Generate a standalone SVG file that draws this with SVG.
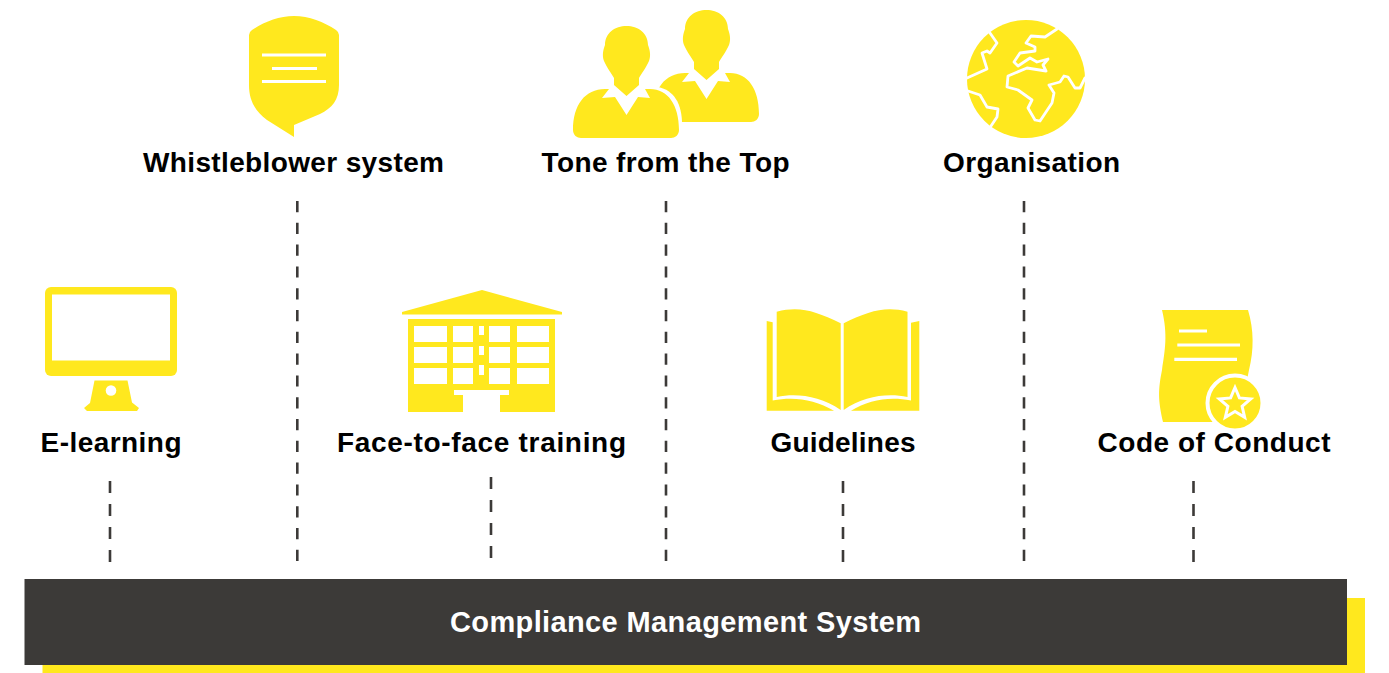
<svg xmlns="http://www.w3.org/2000/svg" width="1389" height="673" viewBox="0 0 1389 673">
<style>
.y{fill:#ffe81e}
.w{fill:#fff}
.wl{fill:none;stroke:#fff;stroke-width:2.800;stroke-linejoin:round;stroke-linecap:round}
.wb{fill:none;stroke:#fff;stroke-width:3.200}
.d{fill:none;stroke:#3c3a38;stroke-width:2.600;stroke-dasharray:12 11}
.l{stroke-dasharray:11.200 10.600}
.t{font-family:"Liberation Sans",Arial,sans-serif;font-weight:700;font-size:28px;fill:#000;text-anchor:middle}
</style>
<defs>
<g id="person">
<path class="y" d="M605,45C605,33 615,26 626.500,26C638,26 648,33 648,45C650,50 651,56 649,61C646,68 641,74 639,78L639,85L626.500,96L614,85L614,78C612,74 607,68 604,61C602,56 603,50 605,45Z"/>
<path class="y" d="M573,130C573,105 585,89 605,89L609,89L602,98L615,97L626.500,115L638,97L650,98L645,89L650,89C668,89 679,105 679,130C679,135 675,138 671,138L581,138C577,138 573,135 573,130Z"/>
</g>
</defs>
<rect x="42.500" y="598" width="1322.500" height="75" class="y"/>
<rect x="24.500" y="579" width="1322.500" height="86" fill="#3c3a38"/>
<g id="connectors">
<path class="d l" d="M297.300,201V562"/>
<path class="d l" d="M666,201V562"/>
<path class="d l" d="M1024,201V562"/>
<path class="d" d="M110,481V562"/>
<path class="d" d="M491,477V558"/>
<path class="d" d="M843,481V562"/>
<path class="d" d="M1193.500,481V562"/>
</g>
<g id="whistleblower">
<path class="y" d="M249,35Q249,32 252,30C264,22 279,16 294,16C309,16 324,22 336,30Q339,32 339,35L339,85C339,100 332,108 320,114L294,125L294,137L267,120C255,111 249,100 249,85Z"/>
<path class="wb" d="M262,55H326M272,68.500H317M262,81.500H326"/>
<text class="t" x="293.500" y="172" textLength="301" lengthAdjust="spacing">Whistleblower system</text>
</g>
<g id="tone">
<use href="#person" x="80" y="-16"/>
<path d="M658,87C674,90 682,104 682,124L682,140L668,140L650,100Z" class="w"/>
<use href="#person"/>
<text class="t" x="665.500" y="172" textLength="248" lengthAdjust="spacing">Tone from the Top</text>
</g>
<g id="organisation">
<circle class="y" cx="1026" cy="79" r="59"/>
<path class="wl" d="M1057,29L1045,37L1031,36L1026,43L1035,47L1035,51L1020,53L1014,62L1018,66L1030,58L1037,62L1048,59L1043,65L1046,71L1027,68L1008,76L1007,87L1018,90L1032,100L1028,108L1035,120L1040,121L1052,103L1054,93L1049,85L1060,82L1064,76L1068,77L1075,88L1080,88L1085,78"/>
<path class="wl" d="M990,33L997,43L990,53L987,51L982,53L987,69L967,78"/>
<path class="wl" d="M968,91L980,95L987,107L998,109L997,117L991,126"/>
<text class="t" x="1031.500" y="172" textLength="177" lengthAdjust="spacing">Organisation</text>
</g>
<g id="elearning">
<rect class="y" x="45" y="287" width="132" height="89" rx="6"/>
<rect class="w" x="52" y="294.500" width="118" height="66"/>
<path class="y" d="M94.500,380.500H127.500L132,402.500L139,408L137,411H87L84,408L90,403Z"/>
<circle class="w" cx="111" cy="390.500" r="5.300"/>
<text class="t" x="111" y="452" textLength="141" lengthAdjust="spacing">E-learning</text>
</g>
<g id="training">
<path class="y" d="M402,312L482,290L562,312V314.500H402Z"/>
<rect class="y" x="408" y="319" width="147" height="93"/>
<path class="w" d="M414,326H447V342H414ZM453,326H473V342H453ZM489,326H510V342H489ZM517,326H549V342H517ZM414,347H447V363H414ZM453,347H473V363H453ZM489,347H510V363H489ZM517,347H549V363H517ZM414,368H447V384H414ZM453,368H473V384H453ZM489,368H510V384H489ZM517,368H549V384H517ZM479,326H484V335H479ZM479,346H484V355H479ZM479,365H484V375H479ZM454,390H509V395H500V412H463V395H454Z"/>
<text class="t" x="481.500" y="452" textLength="289" lengthAdjust="spacing">Face-to-face training</text>
</g>
<g id="guidelines">
<path class="y" d="M776.700,311.700C800,306 815,311 840.700,323.300V410C820,396 797,393 776.700,397Z"/>
<path class="y" d="M907.500,311.700C885,306 869,311 843.700,323.300V410C864,396 887,393 907.500,397Z"/>
<path class="y" d="M766.700,321L772.700,322.300V400.500C795,396 815,400 834,410.700H766.700Z"/>
<path class="y" d="M919.300,321L911,322.800V400.500C889,396 869,400 851,410.700H919.300Z"/>
<text class="t" x="843" y="452" textLength="145" lengthAdjust="spacing">Guidelines</text>
</g>
<g id="code">
<path class="y" d="M1162,310H1248C1254,330 1254,350 1249,370L1243,400L1212,422H1163C1158,400 1158,390 1162,370C1165,350 1168,335 1162,310Z"/>
<path class="wb" d="M1179,331H1207M1177.300,345H1240M1174.300,359.300H1237"/>
<circle class="y" cx="1235" cy="403" r="27.500" stroke="#fff" stroke-width="4"/>
<path d="M1235,387.500L1239.400,397.900L1250.700,398.900L1242.100,406.300L1244.700,417.300L1235,411.500L1225.300,417.300L1227.900,406.300L1219.300,398.900L1230.600,397.900Z" fill="none" stroke="#fff" stroke-width="3"/>
<text class="t" x="1214" y="452" textLength="233" lengthAdjust="spacing">Code of Conduct</text>
</g>
<g id="cms">
<text class="t" x="685.500" y="632" style="fill:#fff;font-size:29px" textLength="471" lengthAdjust="spacing">Compliance Management System</text>
</g>
</svg>
